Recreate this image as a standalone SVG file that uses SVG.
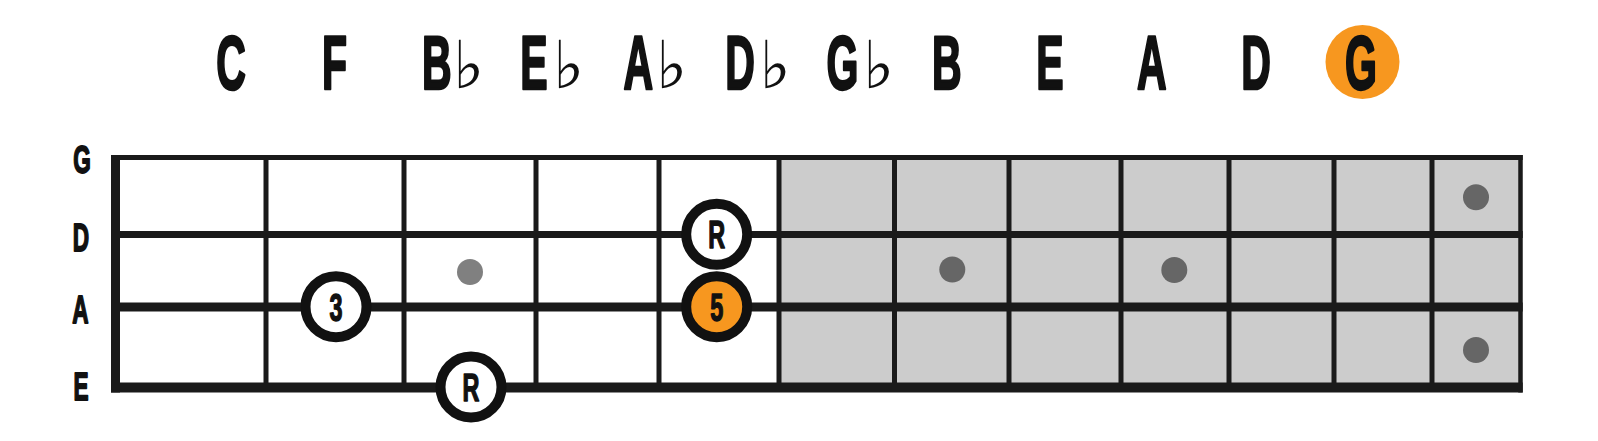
<svg xmlns="http://www.w3.org/2000/svg" width="1598" height="441" viewBox="0 0 1598 441">
<style>
.note{font-family:"Liberation Sans",Arial,sans-serif;font-weight:bold;font-size:76px;fill:#111;stroke:#111;stroke-width:2.6;stroke-linejoin:round;text-anchor:middle}
.flat{font-family:"DejaVu Sans",sans-serif;font-size:66px;fill:#111;text-anchor:start}
.str{font-family:"Liberation Sans",Arial,sans-serif;font-weight:bold;font-size:39px;fill:#111;stroke:#111;stroke-width:1.8;stroke-linejoin:round;text-anchor:middle}
.mk{font-family:"Liberation Sans",Arial,sans-serif;font-weight:bold;font-size:39px;fill:#111;stroke:#111;stroke-width:1.5;stroke-linejoin:round;text-anchor:middle}
.fret{stroke:#1a1a1a;stroke-width:5}
.ring{stroke:#111;stroke-width:10}
.dotL{fill:#808080}
.dotR{fill:#666666}
</style>
<rect width="1598" height="441" fill="#ffffff"/>

<g id="circle-of-fourths">
  <g id="note-C"><g transform="translate(231,88.5) scale(0.54,1)"><text class="note">C</text></g></g>
  <g id="note-F"><g transform="translate(334.5,88.5) scale(0.54,1)"><text class="note">F</text></g></g>
  <g id="note-Bb"><g transform="translate(436.7,88.5) scale(0.54,1)"><text class="note">B</text></g><text class="flat" x="453" y="88">♭</text></g>
  <g id="note-Eb"><g transform="translate(534,88.5) scale(0.54,1)"><text class="note">E</text></g><text class="flat" x="553" y="88">♭</text></g>
  <g id="note-Ab"><g transform="translate(638.3,88.5) scale(0.54,1)"><text class="note">A</text></g><text class="flat" x="656" y="88">♭</text></g>
  <g id="note-Db"><g transform="translate(740,88.5) scale(0.54,1)"><text class="note">D</text></g><text class="flat" x="759.5" y="88">♭</text></g>
  <g id="note-Gb"><g transform="translate(842.5,88.5) scale(0.54,1)"><text class="note">G</text></g><text class="flat" x="863" y="88">♭</text></g>
  <g id="note-B"><g transform="translate(946.7,88.5) scale(0.54,1)"><text class="note">B</text></g></g>
  <g id="note-E"><g transform="translate(1050,88.5) scale(0.54,1)"><text class="note">E</text></g></g>
  <g id="note-A"><g transform="translate(1151.7,88.5) scale(0.54,1)"><text class="note">A</text></g></g>
  <g id="note-D"><g transform="translate(1256,88.5) scale(0.54,1)"><text class="note">D</text></g></g>
  <g id="note-G"><circle cx="1362.5" cy="62" r="37" fill="#F7971F"/><g transform="translate(1361,88.5) scale(0.54,1)"><text class="note">G</text></g></g>
</g>

<g id="string-labels">
  <g transform="translate(82,173) scale(0.58,1)"><text class="str">G</text></g>
  <g transform="translate(81,251) scale(0.58,1)"><text class="str">D</text></g>
  <g transform="translate(80.5,322.5) scale(0.58,1)"><text class="str">A</text></g>
  <g transform="translate(81,400) scale(0.58,1)"><text class="str">E</text></g>
</g>

<g id="fretboard">
  <rect x="779" y="157.5" width="741" height="230" fill="#CCCCCC"/>
  <g class="fret">
    <line x1="266" y1="157.5" x2="266" y2="387.5"/>
    <line x1="404" y1="157.5" x2="404" y2="387.5"/>
    <line x1="536" y1="157.5" x2="536" y2="387.5"/>
    <line x1="659" y1="157.5" x2="659" y2="387.5"/>
    <line x1="779" y1="157.5" x2="779" y2="387.5"/>
    <line x1="894.5" y1="157.5" x2="894.5" y2="387.5"/>
    <line x1="1009" y1="157.5" x2="1009" y2="387.5"/>
    <line x1="1121" y1="157.5" x2="1121" y2="387.5"/>
    <line x1="1229" y1="157.5" x2="1229" y2="387.5"/>
    <line x1="1334" y1="157.5" x2="1334" y2="387.5"/>
    <line x1="1432" y1="157.5" x2="1432" y2="387.5"/>
  </g>
  <line x1="1520.5" y1="155" x2="1520.5" y2="392.5" stroke="#1a1a1a" stroke-width="4.5"/>
  <line x1="111" y1="157.5" x2="1522.7" y2="157.5" stroke="#1a1a1a" stroke-width="5"/>
  <line x1="111" y1="234.5" x2="1522.7" y2="234.5" stroke="#1a1a1a" stroke-width="7"/>
  <line x1="111" y1="307" x2="1522.7" y2="307" stroke="#1a1a1a" stroke-width="9"/>
  <line x1="111" y1="387.5" x2="1522.7" y2="387.5" stroke="#1a1a1a" stroke-width="10"/>
  <line x1="115.5" y1="155" x2="115.5" y2="392.5" stroke="#1a1a1a" stroke-width="9"/>
</g>

<g id="inlay-dots">
  <circle class="dotL" cx="470" cy="272" r="13"/>
  <circle class="dotR" cx="952.3" cy="269.5" r="13"/>
  <circle class="dotR" cx="1174.3" cy="270" r="13"/>
  <circle class="dotR" cx="1476" cy="197.3" r="13"/>
  <circle class="dotR" cx="1476" cy="350" r="13"/>
</g>

<g id="marker-3">
  <circle class="ring" cx="336" cy="306.7" r="30.5" fill="#ffffff"/>
  <g transform="translate(336,320.5) scale(0.6,1)"><text class="mk">3</text></g>
</g>
<g id="marker-R-E">
  <circle class="ring" cx="471" cy="387" r="30.5" fill="#ffffff"/>
  <g transform="translate(471,400.8) scale(0.6,1)"><text class="mk">R</text></g>
</g>
<g id="marker-R-D">
  <circle class="ring" cx="716.7" cy="234.3" r="30.5" fill="#ffffff"/>
  <g transform="translate(716.7,248.1) scale(0.6,1)"><text class="mk">R</text></g>
</g>
<g id="marker-5">
  <circle class="ring" cx="716.7" cy="306.7" r="30.5" fill="#F7971F"/>
  <g transform="translate(716.7,320.5) scale(0.6,1)"><text class="mk">5</text></g>
</g>
</svg>
